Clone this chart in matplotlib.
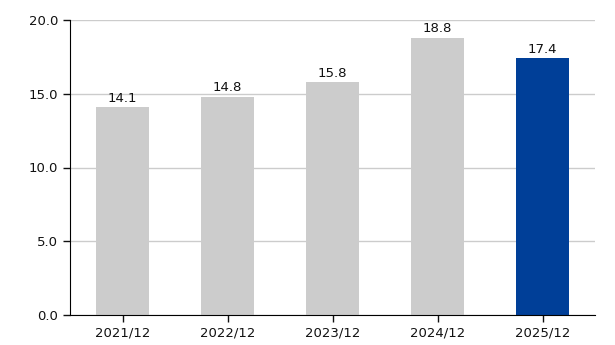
import matplotlib
matplotlib.use("Agg")
import matplotlib.pyplot as plt

# Data
periods = ["2021/12", "2022/12", "2023/12", "2024/12", "2025/12"]
values = [14.1, 14.8, 15.8, 18.8, 17.4]
colors = ["#cccccc", "#cccccc", "#cccccc", "#cccccc", "#003f98"]
yticks = [0.0, 5.0, 10.0, 15.0, 20.0]

fig = plt.figure(figsize=(6.15, 3.45), dpi=100)
ax = fig.add_axes([70 / 615, 30 / 345, 525 / 615, 295 / 345])

x = range(len(periods))
bars = ax.bar(x, values, width=0.5, color=colors, zorder=2)

for xi, v in zip(x, values):
    ax.text(xi, v + 0.15, f"{v:.1f}", ha="center", va="bottom",
            fontsize=9.5, color="#111111")

ax.set_xlim(-0.5, len(periods) - 0.5)
ax.set_ylim(0, 20)
ax.set_yticks(yticks)
ax.set_yticklabels([f"{t:.1f}" for t in yticks])
ax.set_xticks(list(x))
ax.set_xticklabels(periods)

ax.grid(True, axis="y", color="#cccccc", linewidth=1, zorder=0)
for side in ["top", "right"]:
    ax.spines[side].set_visible(False)
ax.spines["left"].set_color("#000000")
ax.spines["bottom"].set_color("#000000")
ax.tick_params(axis="both", labelsize=9.5, colors="#111111", length=5, width=1)
ax.tick_params(axis="x", pad=3)

plt.savefig("out.png", dpi=100)
plt.close()
